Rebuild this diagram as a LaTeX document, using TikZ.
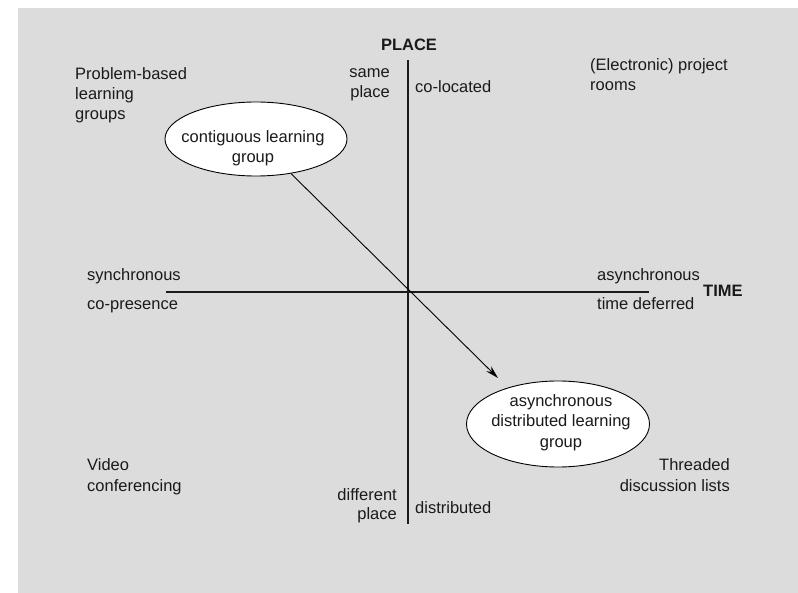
\documentclass[tikz,border=0pt]{standalone}
\usepackage{fontspec}
\setmainfont{Liberation Sans}
\usetikzlibrary{shapes.geometric,arrows.meta}
\definecolor{panel}{HTML}{DCDCDC}
\definecolor{ink}{HTML}{1A1A1A}
\begin{document}
\begin{tikzpicture}[x=1pt,y=-1pt,
  lbl/.style={font=\fontsize{16.5}{20}\selectfont, text=ink, inner sep=0pt},
  lw/.style={lbl, anchor=base west},
  le/.style={lbl, anchor=base east},
  lc/.style={lbl, anchor=base},
  head/.style={lbl, font=\fontsize{16.5}{20}\selectfont\bfseries},
  axis/.style={draw=ink, line width=1.4pt},
  group/.style={ellipse, draw=black, fill=white, line width=0.9pt, inner sep=0pt},
  move/.style={draw=black, line width=0.9pt, -{Stealth[length=13pt,width=7pt]}},
]
\useasboundingbox (0,0) rectangle (798,593);
\fill[panel] (18,8) rectangle (798,593);

% time / place axes
\coordinate (vtop) at (408,60);
\coordinate (vbot) at (408,524);
\coordinate (hleft) at (166,292);
\coordinate (hright) at (649,292);
\draw[axis] (vtop) -- (vbot);
\draw[axis] (hleft) -- (hright);

% axis titles
\node[head, anchor=base] (place) at (409,51) {PLACE};
\node[head, anchor=base west] (time) at (703,297) {TIME};

% the two kinds of learning group
\node[group, minimum width=182pt, minimum height=74pt] (near) at (256,139) {};
\node[group, minimum width=183pt, minimum height=86pt] (far) at (558,424) {};
\node[lc] (near1) at (253,143) {contiguous learning};
\node[lc] (near2) at (253,163) {group};
\node[lc] (far1) at (561,407) {asynchronous};
\node[lc] (far2) at (561,427) {distributed learning};
\node[lc] (far3) at (561,447) {group};

% shift from co-located to distributed work
\coordinate (tip) at (498,378);
\draw[move] (near) -- (tip);

% place axis labels
\node[le] (same1) at (390,78) {same};
\node[le] (same2) at (390,98) {place};
\node[lw] (colo) at (415,93) {co-located};
\node[le] (diff1) at (397,500) {different};
\node[le] (diff2) at (397,519) {place};
\node[lw] (dist) at (415,513) {distributed};

% time axis labels
\node[lw] (sync) at (87,281) {synchronous};
\node[lw] (copres) at (87,310) {co-presence};
\node[lw] (async) at (597,281) {asynchronous};
\node[lw] (defer) at (597,310) {time deferred};

% examples in the four quadrants
\node[lw] (pbl1) at (75,80) {Problem-based};
\node[lw] (pbl2) at (75,100) {learning};
\node[lw] (pbl3) at (75,120) {groups};
\node[lw] (room1) at (590,71) {(Electronic) project};
\node[lw] (room2) at (590,91) {rooms};
\node[lw] (video1) at (87,471) {Video};
\node[lw] (video2) at (87,491) {conferencing};
\node[le] (thread1) at (730,471) {Threaded};
\node[le] (thread2) at (730,491) {discussion lists};
\end{tikzpicture}
\end{document}
